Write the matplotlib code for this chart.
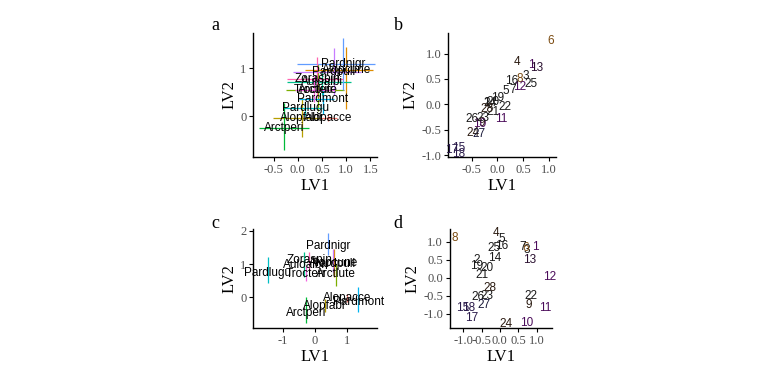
import matplotlib.pyplot as plt
import numpy as np

# species and their colours (hue palette)
species = ['Alopacce', 'Alopcune', 'Alopfabr', 'Arctlute', 'Arctperi', 'Auloalbi',
           'Pardlugu', 'Pardmont', 'Pardnigr', 'Pardpull', 'Trocterr', 'Zoraspin']
sp_cols = ['#F8766D', '#DE8C00', '#B79F00', '#7CAE00', '#00BA38', '#00C08B',
           '#00BFC4', '#00B4F0', '#619CFF', '#C77CFF', '#F564E3', '#FF64B0']

# panel a: species loadings with intervals
a_x = [0.62, 1.00, 0.08, 0.42, -0.29, 0.50, 0.15, 0.52, 0.93, 0.74, 0.33, 0.40]
a_y = [-0.03, 0.96, -0.03, 0.55, -0.24, 0.72, 0.17, 0.37, 1.10, 0.92, 0.55, 0.78]
a_xlo = [0.45, 0.15, -0.52, -0.24, -0.81, -0.22, -0.28, 0.02, -0.02, -0.09, -0.05, -0.23]
a_xhi = [0.80, 1.55, 0.45, 0.96, 0.24, 1.10, 0.50, 0.75, 1.60, 1.30, 0.75, 0.93]
a_ylo = [-0.10, 0.15, -0.43, 0.10, -0.71, 0.45, 0.00, 0.05, 0.55, 0.45, 0.30, 0.40]
a_yhi = [0.05, 1.44, 0.40, 1.10, 0.27, 0.95, 0.30, 0.55, 1.63, 1.42, 0.85, 1.24]

# panel c: species loadings, vertical intervals only
c_x = [0.98, 0.58, 0.31, 0.65, -0.27, -0.35, -1.45, 1.33, 0.40, 0.56, -0.28, -0.18]
c_y = [-0.03, 1.03, -0.26, 0.70, -0.48, 0.97, 0.72, -0.15, 1.55, 1.00, 0.70, 1.12]
c_ylo = [-0.15, 0.60, -0.45, 0.34, -0.78, 0.60, 0.44, -0.45, 1.27, 0.75, 0.50, 0.80]
c_yhi = [0.10, 1.45, -0.05, 1.00, 0.00, 1.35, 1.20, 0.30, 1.93, 1.45, 0.95, 1.35]

# site scores
sites = [str(i) for i in range(1, 29)]
b_x = [0.66, -0.21, 0.55, 0.38, 0.17, 1.04, 0.31, 0.43, -0.30, -0.34, 0.07, 0.44, 0.77, -0.14,
       -0.76, 0.28, -0.89, -0.76, 0.00, -0.08, -0.08, 0.15, -0.28, -0.48, 0.66, -0.50, -0.35, -0.21]
b_y = [0.78, 0.02, 0.56, 0.84, 0.26, 1.25, 0.28, 0.50, -0.36, -0.38, -0.29, 0.35, 0.71, 0.02,
       -0.85, 0.46, -0.90, -0.97, 0.12, 0.05, -0.15, -0.06, -0.26, -0.56, 0.40, -0.29, -0.59, -0.09]
d_x = [0.98, -0.64, 0.74, -0.11, 0.05, 0.71, 0.62, -1.23, 0.80, 0.74, 1.25, 1.36, 0.80, -0.14,
       -1.02, 0.05, -0.77, -0.86, -0.62, -0.36, -0.50, 0.84, -0.36, 0.18, -0.16, -0.59, -0.44, -0.27]
d_y = [0.84, 0.49, 0.78, 1.23, 1.07, 0.81, 0.85, 1.09, -0.75, -1.26, -0.83, 0.03, 0.49, 0.54,
       -0.83, 0.88, -1.10, -0.83, 0.32, 0.26, 0.07, -0.50, -0.50, -1.29, 0.83, -0.52, -0.75, -0.29]
site_cols = ['#4b0c5a', '#1a1a1a', '#1a1a1a', '#2a1a10', '#1a1a1a', '#7a4a10', '#1a1a1a', '#7a4a10',
             '#2a1a10', '#4b0c5a', '#4b0c5a', '#4b0c5a', '#2a1030', '#1a1a1a', '#2a1a4a', '#1a1a1a',
             '#2a1a4a', '#2a1a4a', '#1a1a1a', '#1a1a1a', '#1a1a1a', '#1a1a1a', '#1a1a1a', '#2a1a10',
             '#1a1a1a', '#1a1a1a', '#1a1a3a', '#2a1a10']

plt.rcParams['font.family'] = ['Liberation Serif', 'DejaVu Serif']

fig = plt.figure(figsize=(7.68, 3.84), dpi=100)
ax_a = fig.add_axes([0.3298, 0.592, 0.1607, 0.3228])
ax_b = fig.add_axes([0.5837, 0.592, 0.1399, 0.3228])
ax_c = fig.add_axes([0.3298, 0.1466, 0.1607, 0.2563])
ax_d = fig.add_axes([0.5859, 0.1466, 0.1332, 0.2563])


def style(ax, xlim, ylim, xt, yt, xl, yl):
    ax.set_xlim(*xlim)
    ax.set_ylim(*ylim)
    ax.set_xticks(xt)
    ax.set_yticks(yt)
    ax.set_xticklabels(xl)
    ax.set_yticklabels(yl)
    for s in ['top', 'right']:
        ax.spines[s].set_visible(False)
    for s in ['left', 'bottom']:
        ax.spines[s].set_linewidth(1.0)
    ax.tick_params(length=3, width=0.8, labelsize=9, labelcolor='#4d4d4d', pad=2)
    ax.set_xlabel('LV1', fontsize=12, labelpad=2)
    ax.set_ylabel('LV2', fontsize=12, labelpad=2)


sans = dict(family=['Liberation Sans', 'DejaVu Sans'], fontsize=8.5, ha='center', va='center')

# a
for i, sp in enumerate(species):
    ax_a.errorbar(a_x[i], a_y[i],
                  xerr=[[a_x[i] - a_xlo[i]], [a_xhi[i] - a_x[i]]],
                  yerr=[[a_y[i] - a_ylo[i]], [a_yhi[i] - a_y[i]]],
                  fmt='none', ecolor=sp_cols[i], elinewidth=0.9, capsize=0)
for i, sp in enumerate(species):
    ax_a.text(a_x[i], a_y[i], sp, color='black', **sans)
style(ax_a, (-0.92, 1.63), (-0.85, 1.75), [-0.5, 0, 0.5, 1, 1.5], [0, 1],
      ['-0.5', '0.0', '0.5', '1.0', '1.5'], ['0', '1'])

# b
for i, s in enumerate(sites):
    ax_b.text(b_x[i], b_y[i], s, color=site_cols[i], **sans)
style(ax_b, (-0.955, 1.14), (-1.03, 1.41), [-0.5, 0, 0.5, 1], [-1, -0.5, 0, 0.5, 1],
      ['-0.5', '0.0', '0.5', '1.0'], ['-1.0', '-0.5', '0.0', '0.5', '1.0'])

# c
for i, sp in enumerate(species):
    ax_c.errorbar(c_x[i], c_y[i],
                  yerr=[[c_y[i] - c_ylo[i]], [c_yhi[i] - c_y[i]]],
                  fmt='none', ecolor=sp_cols[i], elinewidth=0.9, capsize=0)
for i, sp in enumerate(species):
    ax_c.text(c_x[i], c_y[i], sp, color='black', **sans)
style(ax_c, (-1.9, 1.9), (-0.92, 2.05), [-1, 0, 1], [0, 1, 2],
      ['-1', '0', '1'], ['0', '1', '2'])

# d
for i, s in enumerate(sites):
    ax_d.text(d_x[i], d_y[i], s, color=site_cols[i], **sans)
style(ax_d, (-1.36, 1.43), (-1.38, 1.34), [-1, -0.5, 0, 0.5, 1], [-1, -0.5, 0, 0.5, 1],
      ['-1.0', '-0.5', '0.0', '0.5', '1.0'], ['-1.0', '-0.5', '0.0', '0.5', '1.0'])

for ax in [ax_a, ax_b, ax_c, ax_d]:
    for t in ax.texts:
        t.set_clip_on(False)

fig.text(215 / 768, 1 - 25 / 384, 'a', fontsize=13, ha='center', va='center')
fig.text(398 / 768, 1 - 25 / 384, 'b', fontsize=13, ha='center', va='center')
fig.text(215 / 768, 1 - 223 / 384, 'c', fontsize=13, ha='center', va='center')
fig.text(398 / 768, 1 - 223 / 384, 'd', fontsize=13, ha='center', va='center')

fig.savefig('out.png', dpi=100)
